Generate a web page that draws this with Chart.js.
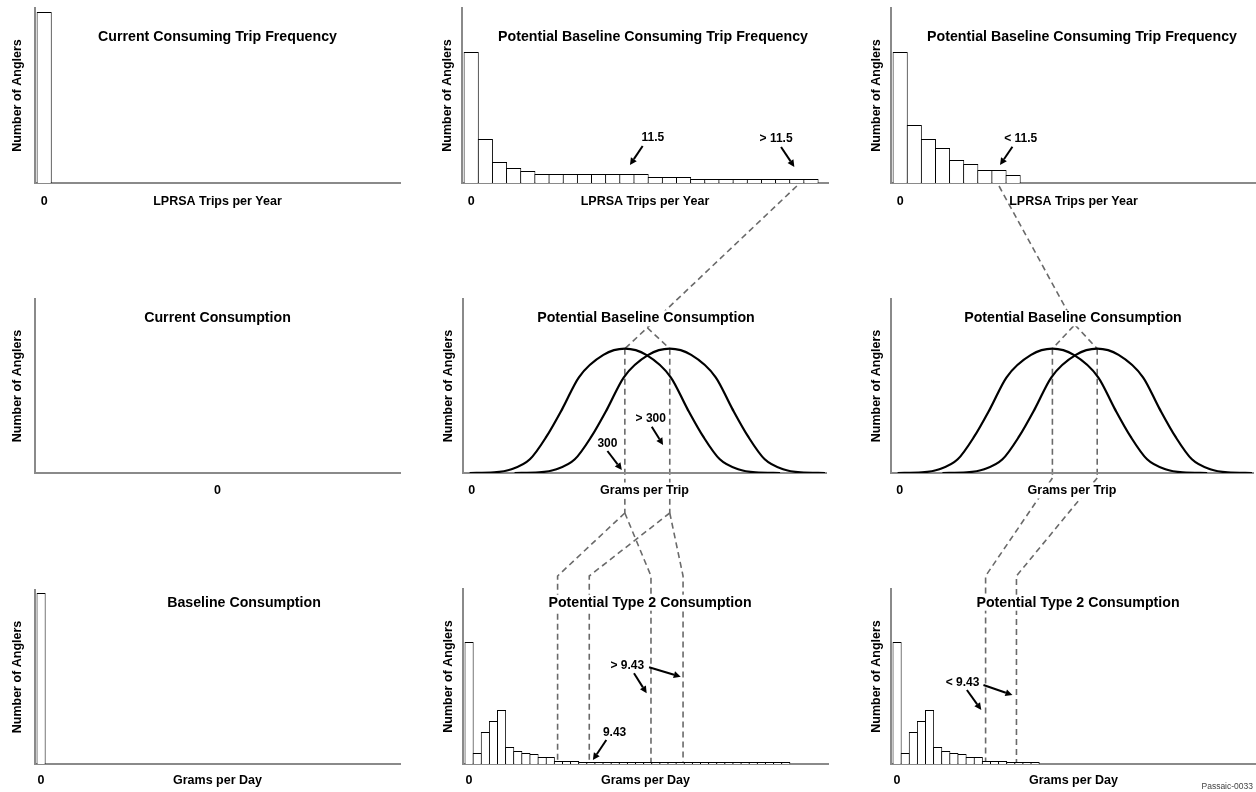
<!DOCTYPE html>
<html lang="en">
<head>
  <meta charset="UTF-8" />
  <title>Angler Consumption Distributions</title>
  <script src="https://cdn.jsdelivr.net/npm/chart.js"></script>
  <style>
    body { margin: 0; background: #fff; }
    #wrap { position: relative; width: 1256px; height: 792px; overflow: hidden; }
    #wrap canvas { position: absolute; }
    #wrap canvas.panel { z-index: 1; }
    #wrap #overlay { left: 0; top: 0; pointer-events: none; z-index: 0; }
    #tag { position: absolute; right: 3px; top: 781px; font: 8.5px "Liberation Sans", Arial, sans-serif; color: #444; }
  </style>
</head>
<body>
<div id="wrap">
  <canvas id="overlay" width="1256" height="792"></canvas>
  <div id="tag">Passaic-0033</div>
</div>

<script>
  // ---- values (arbitrary "number of anglers" units) ----
  const currentTrips     = [171];
  const baselineTrips    = [131, 44, 21, 15, 12, 9, 9, 9, 9, 9, 9, 9, 9, 6, 6, 6, 4, 4, 4, 4, 4, 4, 4, 4, 4];
  const baselineTripsLow = [131, 58, 44, 35, 23, 19, 13, 13, 8];

  // grams per trip curves (x = grams, y = relative count)
  const gramsLowX  = [-4, 44, 78, 114, 146, 178, 210, 258, 300, 342, 390, 422, 454, 486, 522, 556, 604];
  const gramsHighX = [84, 132, 166, 202, 234, 266, 298, 346, 388, 430, 478, 510, 542, 574, 610, 644, 692];
  const gramsY     = [0, 0.5, 3, 11, 29, 52, 77, 95, 100, 95, 77, 52, 29, 11, 3, 0.5, 0];
  const gramsPeaks = [300, 388];

  const baselineDay = [171];
  const type2Day    = [122, 11, 32, 43, 54, 17, 13, 11, 10, 7, 7, 3, 3, 3,
                       2, 2, 2, 2, 2, 2, 2, 2, 2, 2, 2, 2, 2, 2, 2, 2, 2, 2, 2, 2, 2, 2, 2, 2, 2, 2];
  const type2DayLow = [122, 11, 32, 43, 54, 17, 13, 11, 10, 7, 7, 3, 3, 3, 2, 2, 2, 2];

  // bins used by the connectors / arrows
  const tripEqualBin = 11, tripAboveBin = 23, tripBelowBin = 7;
  const loPeakDayBins = [10.9, 22.4];
  const hiPeakDayBins = [14.8, 26.35];
  const loPeakDayBinsLow = [10.9];
  const hiPeakDayBinsLow = [14.7];
  const dayMarkBin = 15;

  const FONT = '"Liberation Sans", Arial, Helvetica, sans-serif';
  const labelFont = { family: FONT, size: 12.5, weight: 'bold' };
  const TITLE_FONT = 'bold 14.2px ' + FONT;
  const AXIS = '#8a8a8a';
  Chart.defaults.color = '#000';
  Chart.defaults.font.family = FONT;

  const TOP_BINS = [-0.65, 25.2], LOW_BINS = [-0.75, 44.2], GRAMS = [-17, 694];

  const panels = [
    { id: 'p1', box: [35, 8, 400, 183],   kind: 'bar',   values: currentTrips,     xr: TOP_BINS, yMax: 175, bp: 1.07,
      title: 'Current Consuming Trip Frequency', tdx: 0, tdy: 29, xTitle: 'LPRSA Trips per Year', yGap: 17.5, xGap: 18.7 },
    { id: 'p2', box: [462, 8, 828, 183],  kind: 'bar',   values: baselineTrips,    xr: TOP_BINS, yMax: 175, bp: 1.07,
      title: 'Potential Baseline Consuming Trip Frequency', tdx: 8, tdy: 29, xTitle: 'LPRSA Trips per Year', yGap: 14.5, xGap: 18.7 },
    { id: 'p3', box: [891, 8, 1256, 183], kind: 'bar',   values: baselineTripsLow, xr: TOP_BINS, yMax: 175, bp: 1.07,
      title: 'Potential Baseline Consuming Trip Frequency', tdx: 8.5, tdy: 29, xTitle: 'LPRSA Trips per Year', yGap: 14.5, xGap: 18.7 },
    { id: 'p4', box: [35, 299, 400, 473], kind: 'empty', xr: GRAMS, yMax: 140,
      title: 'Current Consumption', tdx: 0, tdy: 19, xTitle: '0', yGap: 17.5, xGap: 17.5 },
    { id: 'p5', box: [463, 299, 826, 473], kind: 'curve', xr: GRAMS, yMax: 140,
      title: 'Potential Baseline Consumption', tdx: 1.5, tdy: 19.3, xTitle: 'Grams per Trip', yGap: 14.5, xGap: 17.5 },
    { id: 'p6', box: [891, 299, 1253, 473], kind: 'curve', xr: GRAMS, yMax: 140,
      title: 'Potential Baseline Consumption', tdx: 1, tdy: 19.3, xTitle: 'Grams per Trip', yGap: 14.5, xGap: 17.5 },
    { id: 'p7', box: [35, 590, 400, 764], kind: 'bar',   values: baselineDay,  xr: LOW_BINS, yMax: 174, bp: 1.12,
      title: 'Baseline Consumption', tdx: 26.5, tdy: 12.7, xTitle: 'Grams per Day', yGap: 17.5, xGap: 16.5 },
    { id: 'p8', box: [463, 589, 828, 764], kind: 'bar',   values: type2Day,     xr: LOW_BINS, yMax: 175, bp: 1.12,
      title: 'Potential Type 2 Consumption', tdx: 4.5, tdy: 13.7, xTitle: 'Grams per Day', yGap: 14.5, xGap: 16.5 },
    { id: 'p9', box: [891, 589, 1256, 764], kind: 'bar',  values: type2DayLow,  xr: LOW_BINS, yMax: 175, bp: 1.12,
      title: 'Potential Type 2 Consumption', tdx: 4.5, tdy: 13.7, xTitle: 'Grams per Day', yGap: 14.5, xGap: 16.5 }
  ];

  // panel title drawn inside the plot area; white boxes behind texts hide the connectors beneath
  const panelTitle = {
    id: 'panelTitle',
    beforeDraw(chart, args, opts) {
      const { ctx, chartArea } = chart;
      const cx = (chartArea.left + chartArea.right) / 2;
      ctx.save();
      ctx.fillStyle = '#fff';
      ctx.font = TITLE_FONT;
      let w = ctx.measureText(opts.text).width;
      ctx.fillRect(cx + opts.dx - w / 2 - 2, chartArea.top + opts.dy - 8, w + 4, 16);
      if (opts.boxX) {
        ctx.font = 'bold 12.5px ' + FONT;
        w = ctx.measureText(opts.xTitle).width;
        ctx.fillRect(cx - w / 2 - 2, chartArea.bottom + opts.xGap - 8, w + 4, 16);
      }
      ctx.restore();
    },
    afterDraw(chart, args, opts) {
      const { ctx, chartArea } = chart;
      ctx.save();
      ctx.font = TITLE_FONT;
      ctx.fillStyle = '#000';
      ctx.textAlign = 'center';
      ctx.textBaseline = 'middle';
      ctx.fillText(opts.text, (chartArea.left + chartArea.right) / 2 + opts.dx, chartArea.top + opts.dy);
      ctx.restore();
    }
  };

  const wrap = document.getElementById('wrap');
  const overlayCanvas = document.getElementById('overlay');
  const PADL = 35, PADT = 10, PADB = 40, PADR = 2;

  panels.forEach(p => {
    const [L, T, R, B] = p.box;
    const cv = document.createElement('canvas');
    cv.className = 'panel';
    p.cx = L - PADL; p.cy = T - PADT;
    cv.width = R - L + PADL + PADR;
    cv.height = B - T + PADT + PADB;
    cv.style.left = p.cx + 'px';
    cv.style.top = p.cy + 'px';
    wrap.appendChild(cv);

    let datasets = [];
    if (p.kind === 'bar') {
      datasets = [{
        data: p.values.map((v, i) => ({ x: i, y: v })),
        backgroundColor: '#fff', borderColor: '#000', borderWidth: 1,
        barPercentage: p.bp, categoryPercentage: 1, inflateAmount: 0
      }];
    } else if (p.kind === 'curve') {
      datasets = [gramsLowX, gramsHighX].map(xs => ({
        data: xs.map((x, i) => ({ x, y: gramsY[i] })),
        borderColor: '#000', borderWidth: 2.2, pointRadius: 0, fill: false,
        cubicInterpolationMode: 'monotone'
      }));
    }

    const tickPad = p.xGap - 7.5;
    p.chart = new Chart(cv, {
      type: p.kind === 'bar' ? 'bar' : 'line',
      data: { datasets },
      plugins: [panelTitle],
      options: {
        responsive: false,
        animation: false,
        layout: { padding: { left: 0, top: PADT, right: PADR, bottom: 0 } },
        plugins: {
          legend: { display: false },
          tooltip: { enabled: false },
          panelTitle: { text: p.title, dx: p.tdx, dy: p.tdy, xTitle: p.xTitle, xGap: p.xGap, boxX: p.kind === 'curve' }
        },
        scales: {
          x: {
            type: 'linear', min: p.xr[0], max: p.xr[1], offset: false,
            grid: { display: false, drawTicks: false, offset: false },
            border: { color: AXIS, width: 2 },
            ticks: {
              autoSkip: false, maxRotation: 0, padding: tickPad, font: labelFont, color: '#000',
              callback: v => (v === 0 ? '0' : '')
            },
            afterBuildTicks: s => {
              // one tick per histogram bin (sets the bar width); only bin 0 gets a label
              if (p.kind === 'bar') s.ticks = Array.from({ length: Math.max(p.values.length, 2) }, (_, i) => ({ value: i }));
              else if (p.kind === 'curve') s.ticks = [{ value: 0 }];
              else s.ticks = [];
            },
            title: { display: true, text: p.xTitle, font: labelFont, color: '#000', padding: { top: 0, bottom: 32.5 - p.xGap } },
            afterFit: s => { s.height = PADB; }
          },
          y: {
            type: 'linear', min: 0, max: p.yMax,
            grid: { display: false, drawTicks: false },
            border: { color: AXIS, width: 2 },
            ticks: { display: false },
            title: { display: true, text: 'Number of Anglers', font: labelFont, color: '#000', padding: { top: 27.5 - p.yGap, bottom: 0 } },
            afterFit: s => { s.width = PADL; }
          }
        }
      }
    });
  });

  // ---- connectors and arrows, positioned through each chart's scales ----
  const ov = overlayCanvas.getContext('2d');
  const P = Object.fromEntries(panels.map(p => [p.id, p]));
  const gx = (p, v) => p.cx + p.chart.scales.x.getPixelForValue(v);
  const gy = (p, v) => p.cy + p.chart.scales.y.getPixelForValue(v);
  const areaTop = p => p.cy + p.chart.chartArea.top;
  const areaBottom = p => p.cy + p.chart.chartArea.bottom;

  function dash(pts) {
    ov.save();
    ov.strokeStyle = '#6a6a6a'; ov.lineWidth = 1.6; ov.setLineDash([6, 4]);
    ov.beginPath();
    pts.forEach(([x, y], i) => (i ? ov.lineTo(x, y) : ov.moveTo(x, y)));
    ov.stroke();
    ov.restore();
  }
  function arrow(x1, y1, x2, y2) {
    const a = Math.atan2(y2 - y1, x2 - x1), h = 7, w = 3.5;
    const bx = x2 - h * Math.cos(a), by = y2 - h * Math.sin(a);
    ov.save();
    ov.strokeStyle = ov.fillStyle = '#000'; ov.lineWidth = 2;
    ov.beginPath(); ov.moveTo(x1, y1); ov.lineTo(bx, by); ov.stroke();
    ov.beginPath(); ov.moveTo(x2, y2);
    ov.lineTo(bx + w * Math.sin(a), by - w * Math.cos(a));
    ov.lineTo(bx - w * Math.sin(a), by + w * Math.cos(a));
    ov.closePath(); ov.fill();
    ov.restore();
  }
  function label(text, x, y) {
    ov.save();
    ov.font = 'bold 12px ' + FONT; ov.fillStyle = '#000';
    ov.textAlign = 'center'; ov.textBaseline = 'middle';
    ov.fillText(text, x, y);
    ov.restore();
  }

  const { p2, p3, p5, p6, p8, p9 } = P;

  // fan from a trip bin, through the grams-per-trip peaks, down to the grams-per-day bins
  function fan(src, bin, mid, apexLift, kneeDrop, dst, dstValues, loBins, hiBins) {
    const s = [gx(src, bin), areaBottom(src) + 3];
    const lo = [gx(mid, gramsPeaks[0]), gy(mid, 100)];
    const hi = [gx(mid, gramsPeaks[1]), gy(mid, 100)];
    const apex = [(lo[0] + hi[0]) / 2, lo[1] - apexLift];
    dash([s, apex, lo]);
    dash([apex, hi]);
    const knee = areaBottom(mid) + kneeDrop, entry = areaTop(dst) - 13;
    [[lo, loBins], [hi, hiBins]].forEach(([pk, bins]) => {
      dash([pk, [pk[0], knee]]);
      bins.forEach(b => {
        const x = gx(dst, b);
        dash([[pk[0], knee], [x, entry], [x, gy(dst, dstValues[Math.round(b)])]]);
      });
    });
    return { lo, hi };
  }
  const f5 = fan(p2, tripAboveBin, p5, 21, 40, p8, type2Day, loPeakDayBins, hiPeakDayBins);
  fan(p3, tripBelowBin, p6, 24, 5, p9, type2DayLow, loPeakDayBinsLow, hiPeakDayBinsLow);

  // 11.5 trips per year
  let t = [gx(p2, tripEqualBin) + 3, gy(p2, baselineTrips[tripEqualBin]) - 9];
  label('11.5', t[0] + 23, t[1] - 27.5); arrow(t[0] + 12.7, t[1] - 19, t[0], t[1]);
  t = [gx(p2, tripAboveBin) - 2.5, gy(p2, baselineTrips[tripAboveBin]) - 12];
  label('> 11.5', t[0] - 18.3, t[1] - 28.4); arrow(t[0] - 13.3, t[1] - 20, t[0], t[1]);
  t = [gx(p3, tripBelowBin) + 1, gy(p3, baselineTripsLow[tripBelowBin]) - 5];
  label('< 11.5', t[0] + 20.7, t[1] - 26.7); arrow(t[0] + 12.4, t[1] - 18.3, t[0], t[1]);

  // 300 grams per trip
  t = [f5.lo[0] - 3, areaBottom(p5) - 3];
  label('300', t[0] - 14.4, t[1] - 26); arrow(t[0] - 14.4, t[1] - 19, t[0], t[1]);
  t = [f5.hi[0] - 6.7, areaBottom(p5) - 28];
  label('> 300', t[0] - 12.3, t[1] - 26.7); arrow(t[0] - 11.3, t[1] - 18.3, t[0], t[1]);

  // 9.43 grams per day
  t = [gx(p8, dayMarkBin) + 2, gy(p8, type2Day[dayMarkBin]) - 2];
  label('9.43', t[0] + 21.7, t[1] - 27.3); arrow(t[0] + 13.4, t[1] - 20, t[0], t[1]);
  const v3 = gx(p8, loPeakDayBins[1]), v4 = gx(p8, hiPeakDayBins[1]), t8 = areaTop(p8);
  label('> 9.43', v3 - 23.7, t8 + 77);
  arrow(v3 - 17, t8 + 84.3, v3 - 4.3, t8 + 104.3);
  arrow(v4 - 34, t8 + 78.3, v4 - 2.3, t8 + 87.7);
  const w1 = gx(p9, loPeakDayBinsLow[0]), w2 = gx(p9, hiPeakDayBinsLow[0]), t9 = areaTop(p9);
  label('< 9.43', w1 - 23, t9 + 93.7);
  arrow(w1 - 18.7, t9 + 101, w1 - 4.3, t9 + 121);
  arrow(w2 - 33, t9 + 96, w2 - 4, t9 + 106);
</script>
</body>
</html>
